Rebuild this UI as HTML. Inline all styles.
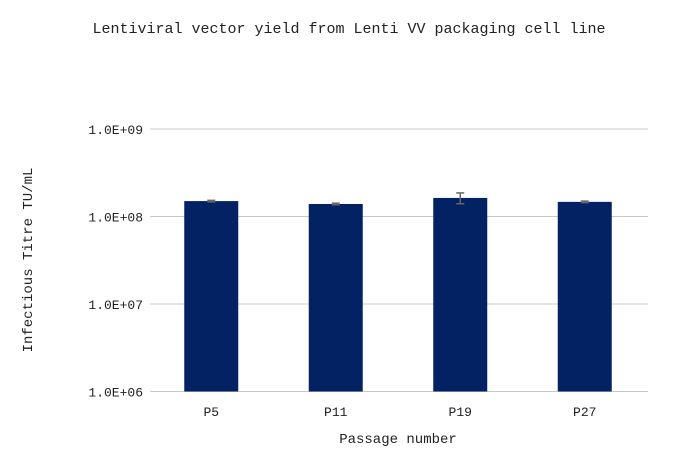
<!DOCTYPE html>
<html><head><meta charset="utf-8"><style>
html,body{margin:0;padding:0;background:#fff;}
svg text{font-family:"WenQuanYi Zen Hei","Liberation Mono",monospace;fill:#222;}
</style></head><body>
<svg id="chart" width="698" height="462" xmlns="http://www.w3.org/2000/svg">
<text x="349" y="33" text-anchor="middle" font-size="15">Lentiviral vector yield from Lenti VV packaging cell line</text>
<g id="grid"></g><g id="bars"></g><g id="xlabels"></g>
<text x="398" y="443" text-anchor="middle" font-size="14">Passage number</text>
<text transform="translate(32,260) rotate(-90)" text-anchor="middle" font-size="14">Infectious Titre TU/mL</text>
</svg>
<script>
const categories=["P5","P11","P19","P27"];
const values=[1.50e8,1.39e8,1.63e8,1.47e8];
const errors=[0.03e8,0.03e8,0.23e8,0.03e8];
const tickValues=[1e6,1e7,1e8,1e9];
const tickLabels=["1.0E+06","1.0E+07","1.0E+08","1.0E+09"];
const NS="http://www.w3.org/2000/svg";
const x0=150,x1=648,yBot=391.5,decade=87.5;
function yScale(v){return yBot-(Math.log10(v)-6)*decade;}
const band=(x1-x0)/categories.length;
function xCenter(i){return x0+band*(i+0.5)-1;}
function mk(t,a,p){const e=document.createElementNS(NS,t);for(const k in a)e.setAttribute(k,a[k]);p.appendChild(e);return e;}
const grid=document.getElementById('grid');
tickValues.forEach((v,i)=>{
  const y=yScale(v);
  const l=mk('line',{x1:x0,x2:x1,y1:y,y2:y,stroke:'#c8c8c8','stroke-width':1},grid);
  
  
  const t=mk('text',{x:143,y:y+5,'text-anchor':'end','font-size':13},grid);
  t.textContent=tickLabels[i];
  
  
});
const bars=document.getElementById('bars'),xl=document.getElementById('xlabels');
categories.forEach((c,i)=>{
  const cx=xCenter(i),w=54,y=yScale(values[i]);
  const r=mk('rect',{x:cx-w/2,y:y,width:w,height:yBot-y,fill:'#032264'},bars);
  
  
  const yt=yScale(values[i]+errors[i]),yb=yScale(values[i]-errors[i]);
  const g=mk('g',{stroke:'#666','stroke-width':1.5},bars);
  
  
  mk('line',{x1:cx,x2:cx,y1:yt,y2:yb},g);
  mk('line',{x1:cx-4,x2:cx+4,y1:yt,y2:yt},g);
  mk('line',{x1:cx-4,x2:cx+4,y1:yb,y2:yb},g);
  const t=mk('text',{x:cx,y:416,'text-anchor':'middle','font-size':13},xl);
  t.textContent=c;
  
  
});
</script>
</body></html>
